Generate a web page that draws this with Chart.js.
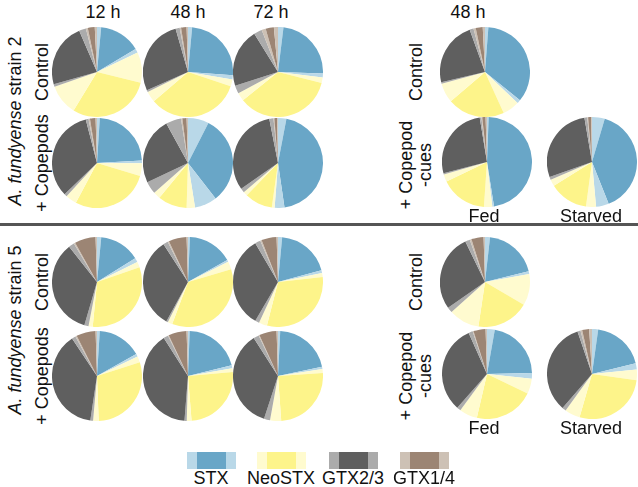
<!DOCTYPE html>
<html>
<head>
<meta charset="utf-8">
<script src="https://cdn.jsdelivr.net/npm/chart.js@4/dist/chart.umd.min.js"></script>
<style>
  html, body { margin: 0; padding: 0; background: #fff; }
  #stage { position: relative; width: 638px; height: 487px; overflow: hidden; font-family: "Liberation Sans", Arial, sans-serif; color: #111; }
  .pie { position: absolute; }
  .lbl { position: absolute; font-size: 18px; white-space: nowrap; transform: translate(-50%, -50%); line-height: 1; }
  .rot { transform: translate(-50%, -50%) rotate(-90deg); }
  .two { text-align: center; line-height: 19px; }
  .rule { position: absolute; left: 0; width: 638px; top: 223px; height: 3px; background: #555; }
  .sw { position: absolute; height: 17px; display: flex; }
  .sw span { display: block; height: 100%; }
</style>
</head>
<body>
<div id="stage"></div>
<script>
// segment order, clockwise from 12 o'clock: low / mean / high share of each toxin
const segmentLabels = ['STX low', 'STX', 'STX high', 'NeoSTX low', 'NeoSTX', 'NeoSTX high',
                       'GTX2/3 low', 'GTX2/3', 'GTX2/3 high', 'GTX1/4 low', 'GTX1/4', 'GTX1/4 high'];
const toxins = ['STX', 'NeoSTX', 'GTX2/3', 'GTX1/4'];
const timeLabels = ['12 h', '48 h', '72 h'];

// strain 2 (% of total toxin)
const s2Ctrl12 = [1.5, 15, 1.5, 11, 30, 11, 1, 23, 2.5, 0.7, 2.5, 0.8];
const s2Ctrl48 = [1.5, 25, 1.5, 2.5, 34, 4, 0.7, 27.5, 1.5, 0.5, 2, 0.5];
const s2Ctrl72 = [2, 24, 1.5, 2, 36, 3, 3, 21.5, 3, 1.5, 3, 1.5];
const s2Cop12 = [1, 23, 1, 4.5, 28, 4, 1, 33, 1, 0.5, 2, 0.5];
const s2Cop48 = [7.5, 32, 8, 3, 10.5, 2.5, 4.5, 24, 5.5, 0.5, 1.5, 0.5];
const s2Cop72 = [3, 44.5, 3.5, 1, 10, 1.5, 1.5, 31.5, 1.5, 0.3, 1, 0.3];
const s2CueCtrl = [1.2, 34.5, 1.3, 6, 20.5, 7, 0.6, 23, 1.4, 0.8, 2.5, 0.8];
const s2CueFed = [0.6, 47, 0.6, 3, 16.8, 2.7, 0.4, 26.5, 0.6, 0.3, 1.2, 0.5];
const s2CueStarved = [4.6, 39.5, 4.6, 3.6, 14, 2.5, 1, 27.8, 1, 0.3, 1.1, 0.3];

// strain 5
const s5Ctrl12 = [1.5, 14.5, 1.5, 2, 31.5, 1.5, 1.5, 34.5, 2, 0.5, 7.5, 0.5];
const s5Ctrl48 = [0.7, 16.3, 0.7, 2.8, 35.5, 1.7, 0.6, 33, 1.7, 0.5, 6.5, 0.5];
const s5Ctrl72 = [1.5, 19.5, 1, 1.5, 31, 3, 1.5, 33.5, 2, 0.5, 5.5, 0.5];
const s5Cop12 = [1, 16, 1, 2.2, 29.5, 2, 1, 38.5, 1.4, 0.5, 7, 0.5];
const s5Cop48 = [0.6, 20.5, 1, 1.4, 25, 1.7, 0.8, 39.5, 1.7, 0.3, 6.5, 0.5];
const s5Cop72 = [0.8, 21, 0.8, 1.4, 25, 4, 2.2, 36, 2, 0.3, 6.3, 0.5];
const s5CueCtrl = [1.8, 19.4, 1, 11.3, 18.9, 11, 2, 27.5, 1.7, 0.6, 4.4, 0.5];
const s5CueFed = [2.8, 22, 2, 5.5, 21.6, 6.5, 1.4, 32, 1.5, 0.3, 4.4, 0.5];
const s5CueStarved = [2.2, 18.9, 2.2, 3.8, 27.2, 5.5, 1.4, 33.3, 1.1, 0.6, 2.5, 1];

const darkColors = ['#69a6c7', '#fdf48a', '#5f5f5f', '#9c8574'];
const lightColors = ['#b9d8e8', '#fffbcf', '#ababab', '#cdc1b5'];
const segColors = [];
darkColors.forEach((d, i) => { segColors.push(lightColors[i], d, lightColors[i]); });

const stage = document.getElementById('stage');
const R = 45;

function makePie(values, cx, cy) {
    const c = document.createElement('canvas');
    c.className = 'pie';
    c.width = 2 * R; c.height = 2 * R;
    c.style.left = (cx - R) + 'px'; c.style.top = (cy - R) + 'px';
    c.style.width = 2 * R + 'px'; c.style.height = 2 * R + 'px';
    stage.appendChild(c);
    new Chart(c, {
        type: 'pie',
        data: { labels: segmentLabels, datasets: [{ data: values, backgroundColor: segColors, borderWidth: 0 }] },
        options: {
            responsive: false, animation: false,
            layout: { padding: 0 },
            plugins: { legend: { display: false }, tooltip: { enabled: false } }
        }
    });
}

function addText(html, x, y, cls) {
    const d = document.createElement('div');
    d.className = 'lbl' + (cls ? ' ' + cls : '');
    d.innerHTML = html;
    d.style.left = x + 'px'; d.style.top = y + 'px';
    stage.appendChild(d);
}

// pies: left grid (time course)
const colX = [97, 188, 278];
[[s2Ctrl12, s2Ctrl48, s2Ctrl72], [s2Cop12, s2Cop48, s2Cop72],
 [s5Ctrl12, s5Ctrl48, s5Ctrl72], [s5Cop12, s5Cop48, s5Cop72]].forEach((row, r) => {
    const y = [72, 163, 282, 376][r];
    row.forEach((vals, i) => makePie(vals, colX[i], y));
});
// right block (copepod cues, 48 h)
makePie(s2CueCtrl, 485, 72);
makePie(s2CueFed, 487, 162);
makePie(s2CueStarved, 592, 162);
makePie(s5CueCtrl, 485, 282);
makePie(s5CueFed, 487, 374);
makePie(s5CueStarved, 592, 374);

// headers
timeLabels.forEach((t, i) => addText(t, [103, 188, 271][i], 12));
addText('48 h', 468, 12);

// row labels
addText('<i>A. fundyense</i> strain 2', 15, 121, 'rot');
addText('Control', 42, 72, 'rot');
addText('+ Copepods', 42, 163, 'rot');
addText('<i>A. fundyense</i> strain 5', 15, 330, 'rot');
addText('Control', 42, 282, 'rot');
addText('+ Copepods', 42, 376, 'rot');
addText('Control', 416, 72, 'rot');
addText('+ Copepod<br>-cues', 416, 165, 'rot two');
addText('Control', 416, 282, 'rot');
addText('+ Copepod<br>-cues', 416, 376, 'rot two');
addText('Fed', 484, 216); addText('Starved', 591, 216);
addText('Fed', 484, 428); addText('Starved', 591, 428);

const rule = document.createElement('div');
rule.className = 'rule';
stage.appendChild(rule);

// legend
const legX = [187, 257, 329, 400];
toxins.forEach((t, i) => {
    const sw = document.createElement('div');
    sw.className = 'sw';
    sw.style.left = legX[i] + 'px'; sw.style.top = '452px';
    [[lightColors[i], 10], [darkColors[i], 29], [lightColors[i], 10]].forEach(([col, w]) => {
        const s = document.createElement('span');
        s.style.background = col; s.style.width = w + 'px';
        sw.appendChild(s);
    });
    stage.appendChild(sw);
    addText(t, legX[i] + 24, 478);
});
</script>
</body>
</html>
